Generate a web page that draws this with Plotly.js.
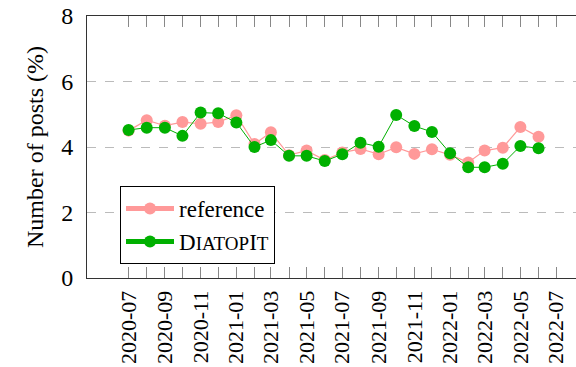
<!DOCTYPE html>
<html>
<head>
<meta charset="utf-8">
<script src="https://cdn.plot.ly/plotly-3.0.1.min.js"></script>
<style>html,body{margin:0;padding:0;background:#fff;}#chart{width:576px;height:367px;}</style>
</head>
<body>
<div id="chart"></div>
<script>
const months = ["2020-07","2020-08","2020-09","2020-10","2020-11","2020-12",
  "2021-01","2021-02","2021-03","2021-04","2021-05","2021-06",
  "2021-07","2021-08","2021-09","2021-10","2021-11","2021-12",
  "2022-01","2022-02","2022-03","2022-04","2022-05","2022-06"];
const referenceValues = [4.50,4.82,4.65,4.76,4.71,4.76,4.97,4.09,4.45,3.75,3.89,3.60,
  3.83,3.94,3.78,3.99,3.79,3.93,3.76,3.53,3.89,3.98,4.61,4.31];
const diatopitValues = [4.52,4.59,4.59,4.34,5.05,5.03,4.75,4.00,4.21,3.73,3.73,3.57,
  3.78,4.13,4.01,4.98,4.64,4.46,3.81,3.38,3.38,3.49,4.03,3.96];
const tickMonths = ["2020-07","2020-08","2020-09","2020-10","2020-11","2020-12",
  "2021-01","2021-02","2021-03","2021-04","2021-05","2021-06",
  "2021-07","2021-08","2021-09","2021-10","2021-11","2021-12",
  "2022-01","2022-02","2022-03","2022-04","2022-05","2022-06","2022-07"];
const tickLabels = tickMonths.map((m, i) => i % 2 === 0 ? m : "");
const yTicks = [0, 2, 4, 6, 8];

const font = "Liberation Serif, Times New Roman, serif";
const fs = 24;

const traces = [
  {x: months, y: referenceValues, name: "reference", type: "scatter", mode: "lines+markers",
   line: {color: "#ff9999", width: 1.2}, marker: {color: "#ff9999", size: 12}},
  {x: months, y: diatopitValues,
   name: 'D<span style="font-size:19px">IATOP</span>I<span style="font-size:19px">T</span>',
   type: "scatter", mode: "lines+markers",
   line: {color: "#00b000", width: 1}, marker: {color: "#00b000", size: 12}}
];

const layout = {
  width: 576, height: 367,
  margin: {l: 87, r: 0, t: 16, b: 89},
  paper_bgcolor: "#fff", plot_bgcolor: "#fff",
  font: {family: font, size: fs, color: "#000"},
  showlegend: true,
  legend: {x: 0.0675, y: 0.351, xanchor: "left", yanchor: "top",
    bordercolor: "#000", borderwidth: 1, bgcolor: "#fff", itemwidth: 48,
    entrywidth: 115, entrywidthmode: "pixels",
    font: {family: font, size: 23, color: "#000"}, itemsizing: "constant", tracegroupgap: 0},
  xaxis: {type: "date", range: ["2020-04-21", "2022-08-04"],
    tickmode: "array", tickvals: tickMonths, ticktext: tickLabels, tickangle: -90,
    ticks: "inside", ticklen: 11, tickcolor: "#888", tickwidth: 1,
    showline: true, linecolor: "#333", linewidth: 1, mirror: "ticks",
    showgrid: false, zeroline: false,
    tickfont: {family: font, size: 22, color: "#000"}, ticklabelstandoff: 3},
  yaxis: {range: [0, 8], tickmode: "array", tickvals: yTicks, ticks: "",
    showline: true, linecolor: "#333", linewidth: 1,
    showgrid: true, gridcolor: "#bbb", griddash: "dash", gridwidth: 1, zeroline: false,
    tickfont: {family: font, size: fs, color: "#000"}, ticklabelstandoff: 8,
    title: {text: "Number of posts (%)", font: {family: font, size: fs, color: "#000"}, standoff: 10}}
};

Plotly.newPlot("chart", traces, layout, {displayModeBar: false, staticPlot: true});
</script>
</body>
</html>
